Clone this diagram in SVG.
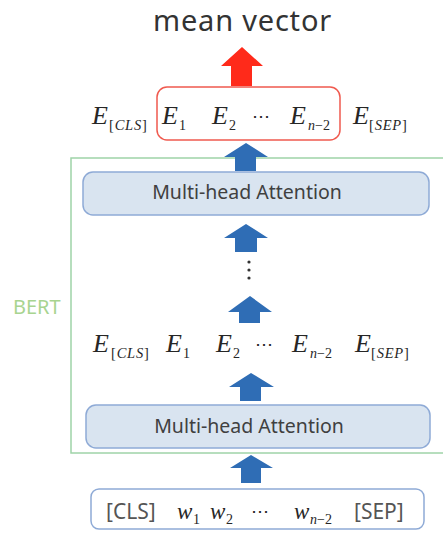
<svg xmlns="http://www.w3.org/2000/svg" width="443" height="533" viewBox="0 0 443 533">
  <style>
    .title { font-family: "Noto Sans", "Liberation Sans", sans-serif; font-size: 29px; letter-spacing: 0.8px; fill: #333333; }
    .bert { font-family: "Noto Sans", "Liberation Sans", sans-serif; font-size: 20px; fill: #a8d48f; }
    .mha-box { fill: #d9e4f0; stroke: #8eaad6; stroke-width: 1.5; }
    .mha-text { font-family: "Noto Sans", "Liberation Sans", sans-serif; font-size: 19.5px; fill: #404040; text-anchor: middle; }
    .in-box { fill: #ffffff; stroke: #8eaad6; stroke-width: 1.5; }
    .tok { font-family: "Noto Sans", "Liberation Sans", sans-serif; font-size: 21px; fill: #555555; }
    .m { font-family: "Liberation Serif", "Times New Roman", serif; font-size: 26px; font-style: italic; fill: #262626; }
    .w { font-family: "Liberation Serif", "Times New Roman", serif; font-size: 23px; font-style: italic; fill: #262626; }
    .sub { font-family: "Liberation Serif", "Times New Roman", serif; font-size: 14px; fill: #262626; }
    .br { font-size: 14.5px; letter-spacing: 0.8px; }
    .it { font-style: italic; }
    .dots { font-family: "DejaVu Serif", serif; font-size: 18px; fill: #262626; }
    .arrow-blue { fill: #2f6db5; }
    .arrow-red { fill: #ff2a1a; }
  </style>

  <!-- output label -->
  <g id="mean-vector">
    <text class="title" x="153" y="31">mean vector</text>
  </g>

  <!-- BERT container (right side runs past the canvas) -->
  <g id="bert">
    <rect x="71" y="158" width="390" height="295" fill="none" stroke="#9fd3a8" stroke-width="1.5"/>
    <text class="bert" x="13" y="314">BERT</text>
  </g>

  <!-- pooled output embeddings -->
  <g id="pooled">
    <rect x="157" y="87" width="183" height="53" rx="10" fill="none" stroke="#f05a4f" stroke-width="1.5"/>
  </g>

  <!-- top embedding row -->
  <g id="embeddings-top">
    <text class="m" x="92" y="124">E</text>
    <text class="sub br" x="109" y="130">[<tspan class="it">CLS</tspan>]</text>
    <text class="m" x="162" y="124">E</text>
    <text class="sub" x="179" y="130">1</text>
    <text class="m" x="212" y="124">E</text>
    <text class="sub" x="229" y="130">2</text>
    <text class="dots" x="252" y="122">⋯</text>
    <text class="m" x="290" y="124">E</text>
    <text class="sub" x="308" y="130"><tspan class="it">n</tspan>−2</text>
    <text class="m" x="353" y="124">E</text>
    <text class="sub br" x="369" y="130">[<tspan class="it">SEP</tspan>]</text>
  </g>

  <!-- upper attention layer -->
  <g id="mha-top">
    <rect class="mha-box" x="83" y="172" width="346" height="43" rx="10"/>
    <text class="mha-text" x="247" y="199">Multi-head Attention</text>
  </g>

  <!-- layer stack ellipsis -->
  <g id="layer-dots" fill="#333333">
    <circle cx="249" cy="262" r="1.6"/>
    <circle cx="249" cy="270" r="1.6"/>
    <circle cx="249" cy="278" r="1.6"/>
  </g>

  <!-- middle embedding row -->
  <g id="embeddings-mid">
    <text class="m" x="93" y="352">E</text>
    <text class="sub br" x="111" y="358">[<tspan class="it">CLS</tspan>]</text>
    <text class="m" x="166" y="352">E</text>
    <text class="sub" x="183" y="358">1</text>
    <text class="m" x="216" y="352">E</text>
    <text class="sub" x="233" y="358">2</text>
    <text class="dots" x="255" y="350">⋯</text>
    <text class="m" x="292" y="352">E</text>
    <text class="sub" x="310" y="358"><tspan class="it">n</tspan>−2</text>
    <text class="m" x="355" y="352">E</text>
    <text class="sub br" x="371" y="358">[<tspan class="it">SEP</tspan>]</text>
  </g>

  <!-- lower attention layer -->
  <g id="mha-bottom">
    <rect class="mha-box" x="86" y="405" width="344" height="43" rx="10"/>
    <text class="mha-text" x="249" y="433">Multi-head Attention</text>
  </g>

  <!-- input tokens -->
  <g id="input">
    <rect class="in-box" x="91" y="489" width="333" height="40" rx="8"/>
    <text class="tok" x="106" y="519">[CLS]</text>
    <text class="w" x="177" y="519">w</text>
    <text class="sub" x="193" y="524">1</text>
    <text class="w" x="210" y="519">w</text>
    <text class="sub" x="226" y="524">2</text>
    <text class="dots" x="251" y="517">⋯</text>
    <text class="w" x="294" y="519">w</text>
    <text class="sub" x="310" y="524"><tspan class="it">n</tspan>−2</text>
    <text class="tok" x="354" y="519">[SEP]</text>
  </g>

  <!-- block arrows -->
  <g id="connectors">
    <polygon class="arrow-red" points="242,47 263,66 252,66 252,86 231,86 231,66 221,66"/>
    <polygon class="arrow-blue" points="246,143 268,157 256,157 256,171 235,171 235,157 224,157"/>
    <polygon class="arrow-blue" points="246,224 268,238 257,238 257,252 235,252 235,238 224,238"/>
    <polygon class="arrow-blue" points="250,296 272,312 260,312 260,323 239,323 239,312 228,312"/>
    <polygon class="arrow-blue" points="251,373 274,387 261,387 261,401 240,401 240,387 229,387"/>
    <polygon class="arrow-blue" points="251,455 273,468 261,468 261,483 241,483 241,468 230,468"/>
  </g>
</svg>
